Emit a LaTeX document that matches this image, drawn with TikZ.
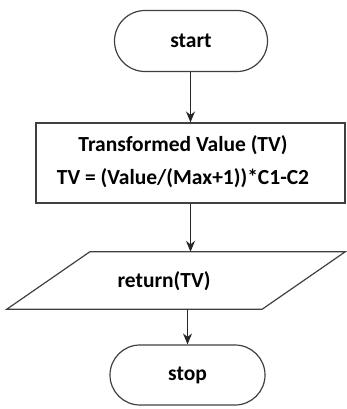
\documentclass[tikz,border=0pt]{standalone}
\usepackage{fontspec}
\setmainfont{Carlito}
\usetikzlibrary{shapes.misc,arrows.meta}
\begin{document}
\begin{tikzpicture}[x=1pt,y=-1pt,
  every node/.style={font=\fontsize{21.5}{33}\selectfont\bfseries, text=black},
  term/.style={rounded rectangle, draw=black!75, line width=1.2pt, minimum height=61pt, inner sep=0pt},
  procbox/.style={rectangle, draw=black!75, line width=1.2pt, minimum width=309pt, minimum height=80pt, inner sep=0pt},
  iobox/.style={rectangle, minimum width=255pt, minimum height=57pt, inner sep=0pt},
  shapeline/.style={draw=black!75, line width=1.2pt, line join=miter},
  flow/.style={draw=black!85, line width=1.2pt, -{Stealth[length=11pt,width=9pt]}}
]
\useasboundingbox (0,0) rectangle (346,409);
\node[term, minimum width=153pt] (start) at (191,41) {start};
\node[procbox] (tv) at (190.5,163) {};
\node[align=center] (tvtext) at (183,162) {Transformed Value (TV)\\TV = (Value/(Max+1))*C1-C2};
\node[iobox] (ret) at (176,280.5) {};
\node (rettext) at (164,281) {return(TV)};
\draw[shapeline] ([xshift=41.5pt]ret.north west) -- ([xshift=41.5pt]ret.north east)
  -- ([xshift=-41.5pt]ret.south east) -- ([xshift=-41.5pt]ret.south west) -- cycle;
\node[term, minimum width=155pt, minimum height=60pt] (stop) at (187.5,375) {stop};
\draw[flow] (start.south -| tv.north) -- (tv.north);
\draw[flow] (tv.south) -- (tv.south |- ret.north);
\draw[flow] (stop.north |- ret.south) -- (stop.north);
\end{tikzpicture}
\end{document}
